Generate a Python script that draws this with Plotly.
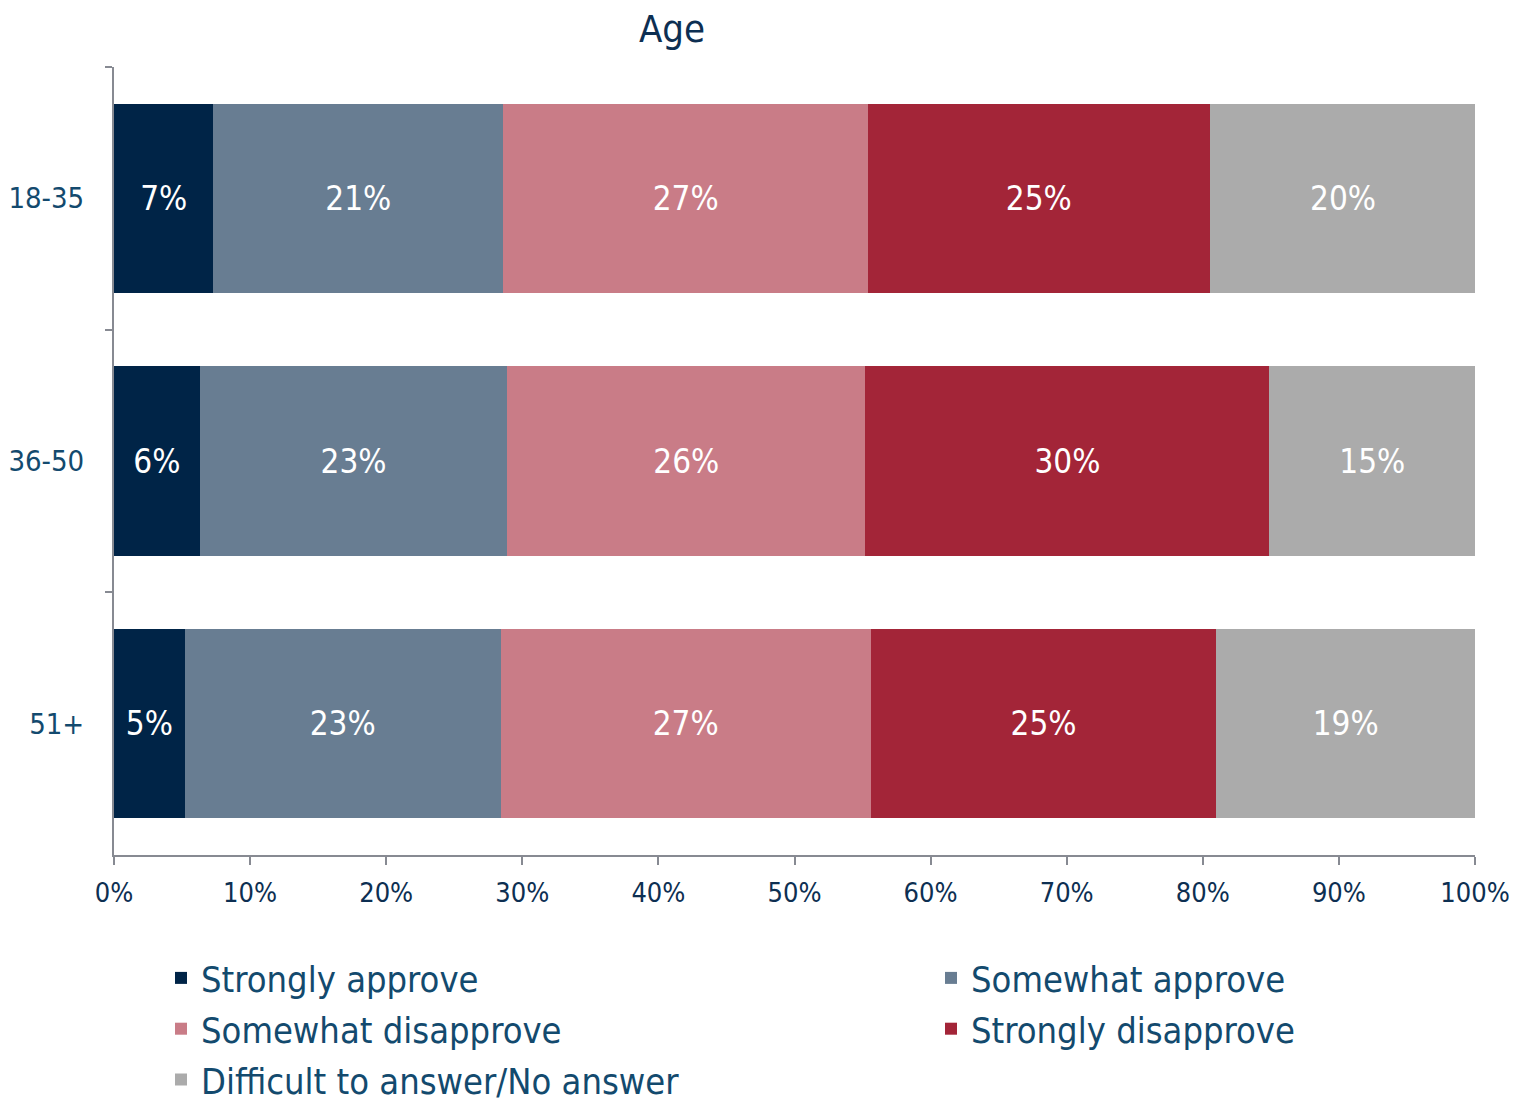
import plotly.graph_objects as go

categories = ["18-35", "36-50", "51+"]
series_names = ["Strongly approve", "Somewhat approve", "Somewhat disapprove",
                "Strongly disapprove", "Difficult to answer/No answer"]
strongly_approve = [7.3, 6.3, 5.2]
somewhat_approve = [21.3, 22.6, 23.2]
somewhat_disapprove = [26.8, 26.3, 27.2]
strongly_disapprove = [25.1, 29.7, 25.4]
difficult = [19.6, 15.1, 19.0]
colors = ["#002447", "#687d92", "#c97c87", "#a32538", "#ababab"]
legend_column = ["legend", "legend2", "legend", "legend2", "legend"]

values = [strongly_approve, somewhat_approve, somewhat_disapprove, strongly_disapprove, difficult]

FONT = "Tahoma, 'DejaVu Sans Condensed', 'DejaVu Sans', sans-serif"
OFF = 8  # default page body margin in the written html

fig = go.Figure()
for name, vals, col, lg in zip(series_names, values, colors, legend_column):
    fig.add_trace(go.Bar(
        y=categories, x=vals, name=name, orientation="h",
        marker=dict(color=col, line=dict(width=0)),
        texttemplate="%{x:.0f}%", textposition="inside", insidetextanchor="middle",
        constraintext="none",
        textfont=dict(color="white", size=33, family=FONT),
        legend=lg, legendgroup=name,
    ))

W, H = 1517, 1105
legend_common = dict(orientation="v", yref="container", xref="container",
                     xanchor="left", yanchor="top", traceorder="grouped",
                     font=dict(size=36, color="#134a6e", family=FONT),
                     tracegroupgap=1, bgcolor="rgba(0,0,0,0)")

fig.update_layout(
    barmode="stack",
    bargap=0.28,
    width=W, height=H,
    margin=dict(l=114 - OFF, r=W - (1475 - OFF), t=67 - OFF, b=H - (855 - OFF), autoexpand=False),
    plot_bgcolor="white", paper_bgcolor="white",
    font=dict(family=FONT, color="#0d2f52"),
    title=dict(text="Age", x=(672 - OFF) / W, xanchor="center", xref="container",
               y=1 - (29 - OFF) / H, yanchor="middle", yref="container",
               font=dict(size=38, color="#0d2f52", family=FONT)),
    xaxis=dict(range=[0, 100], dtick=10, ticksuffix="%", showgrid=False, zeroline=False,
               showline=True, linecolor="#878a92", linewidth=2, automargin=False,
               ticks="outside", ticklen=8, tickwidth=2, tickcolor="#878a92",
               ticklabelstandoff=5,
               tickfont=dict(size=27, color="#0d2f52", family=FONT)),
    yaxis=dict(categoryorder="array", categoryarray=categories, autorange="reversed",
               showgrid=False, zeroline=False, showline=True, linecolor="#878a92", linewidth=2,
               ticks="outside", ticklen=7, tickwidth=2, tickcolor="#878a92",
               tickson="boundaries", automargin=False, ticklabelstandoff=22,
               tickfont=dict(size=29, color="#134a6e", family=FONT)),
    legend=dict(x=(161 - OFF) / W, y=1 - (948 - OFF) / H, **legend_common),
    legend2=dict(x=(931 - OFF) / W, y=1 - (948 - OFF) / H, **legend_common),
)

fig.write_html("out.html")
